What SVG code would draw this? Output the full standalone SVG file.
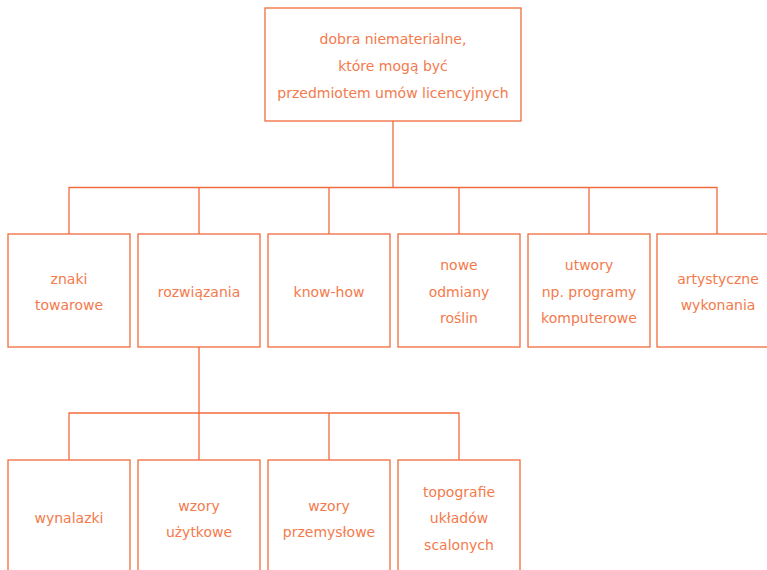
<svg xmlns="http://www.w3.org/2000/svg" width="767" height="570" viewBox="0 0 767 570">
<style>
.box{fill:#fff;stroke:#f26b3c;stroke-width:1.3}
.ln{fill:none;stroke:#f26b3c;stroke-width:1.3}
text{font-family:"DejaVu Sans",sans-serif;font-size:14px;fill:#f47a4c;text-anchor:middle}
</style>
<rect width="767" height="570" fill="#fff"/>
<g id="connectors">
<path class="ln" d="M393 121V187.5M69 234V187.5H717V234M199 187.5V234M329 187.5V234M459 187.5V234M589 187.5V234"/>
<path class="ln" d="M199 347V413M69 460V413H459V460M199 413V460M329 413V460"/>
</g>
<g id="root"><rect class="box" x="265" y="8" width="256" height="113"/>
<text x="393" y="44">dobra niematerialne,</text><text x="393" y="71">które mogą być</text><text x="393" y="98">przedmiotem umów licencyjnych</text></g>
<g id="n1"><rect class="box" x="8" y="234" width="122" height="113"/><text x="69" y="284">znaki</text><text x="69" y="310">towarowe</text></g>
<g id="n2"><rect class="box" x="138" y="234" width="122" height="113"/><text x="199" y="297">rozwiązania</text></g>
<g id="n3"><rect class="box" x="268" y="234" width="122" height="113"/><text x="329" y="297">know-how</text></g>
<g id="n4"><rect class="box" x="398" y="234" width="122" height="113"/><text x="459" y="270">nowe</text><text x="459" y="297">odmiany</text><text x="459" y="323">roślin</text></g>
<g id="n5"><rect class="box" x="528" y="234" width="122" height="113"/><text x="589" y="270">utwory</text><text x="589" y="297">np. programy</text><text x="589" y="323">komputerowe</text></g>
<g id="n6"><rect class="box" x="657" y="234" width="122" height="113"/><text x="718" y="284">artystyczne</text><text x="718" y="310">wykonania</text></g>
<g id="m1"><rect class="box" x="8" y="460" width="122" height="120"/><text x="69" y="523">wynalazki</text></g>
<g id="m2"><rect class="box" x="138" y="460" width="122" height="120"/><text x="199" y="511">wzory</text><text x="199" y="537">użytkowe</text></g>
<g id="m3"><rect class="box" x="268" y="460" width="122" height="120"/><text x="329" y="511">wzory</text><text x="329" y="537">przemysłowe</text></g>
<g id="m4"><rect class="box" x="398" y="460" width="122" height="120"/><text x="459" y="497">topografie</text><text x="459" y="523">układów</text><text x="459" y="550">scalonych</text></g>
</svg>
